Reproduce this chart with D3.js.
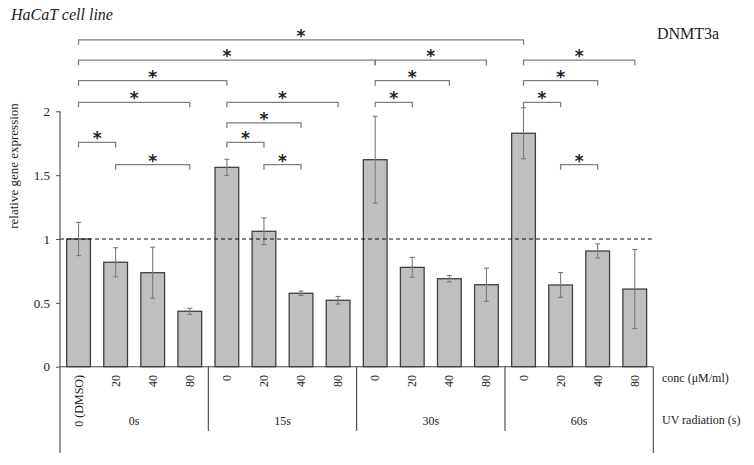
<!DOCTYPE html>
<html>
<head>
<meta charset="utf-8">
<script src="https://cdn.jsdelivr.net/npm/d3@7"></script>
<style>
  body { margin: 0; background: #fff; }
  svg text { font-family: "Liberation Serif", "Times New Roman", serif; fill: #222; }
</style>
</head>
<body>
<div id="chart"></div>
<script>
// data
const groups = ["0s", "15s", "30s", "60s"];
const concs = ["0 (DMSO)", "20", "40", "80", "0", "20", "40", "80", "0", "20", "40", "80", "0", "20", "40", "80"];
const values = [1.00, 0.818, 0.736, 0.434, 1.561, 1.060, 0.575, 0.520, 1.621, 0.778, 0.689, 0.642, 1.828, 0.640, 0.906, 0.608];
const errors = [0.13, 0.114, 0.20, 0.024, 0.063, 0.105, 0.017, 0.030, 0.34, 0.078, 0.025, 0.13, 0.20, 0.097, 0.056, 0.31];
const yTicks = [0, 0.5, 1, 1.5, 2];
// significance brackets: [from bar, to bar, level in y units above the axis]
const brackets = [
  [0, 12, 2.56],
  [0, 8, 2.40], [8, 11, 2.40], [12, 15, 2.40],
  [0, 4, 2.24], [8, 10, 2.24], [12, 14, 2.24],
  [0, 3, 2.07], [4, 7, 2.07], [8, 9, 2.07], [12, 13, 2.07],
  [4, 6, 1.91],
  [0, 1, 1.756], [4, 5, 1.756],
  [1, 3, 1.582], [5, 6, 1.582], [13, 14, 1.582]
];

const width = 754, height = 465;
const svg = d3.select("#chart").append("svg")
    .attr("width", width)
    .attr("height", height);

const plotLeft = 60, plotRight = 653.3, plotBottom = 366.7, plotTop = 111.3;

const x = d3.scaleBand()
    .domain(d3.range(values.length))
    .range([plotLeft, plotRight])
    .paddingInner(0.36)
    .paddingOuter(0.18);

const y = d3.scaleLinear()
    .domain([0, 2])
    .range([plotBottom, plotTop]);

const cx = i => x(i) + x.bandwidth() / 2;
const step = x.step();

// titles
svg.append("text")
    .attr("x", 11).attr("y", 20)
    .style("font-style", "italic")
    .style("font-size", "16px")
    .text("HaCaT cell line");

svg.append("text")
    .attr("x", 657).attr("y", 39)
    .style("font-size", "16px")
    .text("DNMT3a");

// y axis
const yAxis = svg.append("g")
    .attr("transform", `translate(${plotLeft},0)`)
    .call(d3.axisLeft(y).tickValues(yTicks).tickSize(4).tickPadding(6).tickFormat(d3.format("")));
yAxis.select(".domain").remove();
yAxis.selectAll("line").attr("stroke", "#555");
yAxis.selectAll("text")
    .style("font-size", "13px")
    .attr("fill", "#333");

svg.append("text")
    .attr("transform", "translate(18,166) rotate(-90)")
    .attr("text-anchor", "middle")
    .style("font-size", "13px")
    .text("relative gene expression");

// bars
svg.selectAll(".bar")
    .data(values)
    .enter().append("rect")
    .attr("class", "bar")
    .attr("x", (d, i) => x(i))
    .attr("y", d => y(d))
    .attr("width", x.bandwidth())
    .attr("height", d => y(0) - y(d))
    .attr("fill", "#bfbfbf")
    .attr("stroke", "#404040")
    .attr("stroke-width", 1.3);

// error bars
const eb = svg.selectAll(".err")
    .data(values)
    .enter().append("g")
    .attr("class", "err")
    .attr("stroke", "#7a7a7a")
    .attr("stroke-width", 1.1);
eb.append("line")
    .attr("x1", (d, i) => cx(i)).attr("x2", (d, i) => cx(i))
    .attr("y1", (d, i) => y(d + errors[i]))
    .attr("y2", (d, i) => y(d - errors[i]));
eb.append("line")
    .attr("x1", (d, i) => cx(i) - 2.5).attr("x2", (d, i) => cx(i) + 2.5)
    .attr("y1", (d, i) => y(d + errors[i])).attr("y2", (d, i) => y(d + errors[i]));
eb.append("line")
    .attr("x1", (d, i) => cx(i) - 2.5).attr("x2", (d, i) => cx(i) + 2.5)
    .attr("y1", (d, i) => y(d - errors[i])).attr("y2", (d, i) => y(d - errors[i]));

// dashed reference at 1
svg.append("line")
    .attr("x1", plotLeft).attr("x2", plotRight - 1.5)
    .attr("y1", y(1)).attr("y2", y(1))
    .attr("stroke", "#111")
    .attr("stroke-width", 1.2)
    .attr("stroke-dasharray", "4,3");

// axis frame / category table lines
const lines = svg.append("g").attr("stroke", "#444").attr("stroke-width", 1.1);
lines.append("line").attr("x1", plotLeft).attr("x2", plotLeft).attr("y1", plotTop).attr("y2", 453);
lines.append("line").attr("x1", plotLeft).attr("x2", plotRight).attr("y1", plotBottom).attr("y2", plotBottom);
lines.append("line").attr("x1", plotRight).attr("x2", plotRight).attr("y1", plotBottom).attr("y2", 453);
[4, 8, 12].forEach(k => {
    const sx = plotLeft + k * step;
    lines.append("line").attr("x1", sx).attr("x2", sx).attr("y1", plotBottom).attr("y2", 431);
});

// concentration labels
svg.selectAll(".conc")
    .data(concs)
    .enter().append("text")
    .attr("class", "conc")
    .attr("transform", (d, i) => `translate(${cx(i) + 4},375) rotate(-90)`)
    .attr("text-anchor", "end")
    .style("font-size", "12px")
    .text(d => d);

// group labels
svg.selectAll(".grp")
    .data(groups)
    .enter().append("text")
    .attr("class", "grp")
    .attr("x", (d, i) => plotLeft + (i * 4 + 2) * step)
    .attr("y", 425)
    .attr("text-anchor", "middle")
    .style("font-size", "12px")
    .text(d => d);

svg.append("text").attr("x", 662).attr("y", 382).style("font-size", "12px").text("conc (\u03bcM/ml)");
svg.append("text").attr("x", 662).attr("y", 424).style("font-size", "12px").text("UV radiation (s)");

// significance brackets
const br = svg.selectAll(".bracket")
    .data(brackets)
    .enter().append("g")
    .attr("class", "bracket");
br.append("path")
    .attr("d", d => {
        const x1 = cx(d[0]), x2 = cx(d[1]), yy = y(d[2]);
        return `M${x1},${yy + 5}V${yy}H${x2}V${yy + 5}`;
    })
    .attr("fill", "none")
    .attr("stroke", "#7f7f7f")
    .attr("stroke-width", 1.3);
br.append("text")
    .attr("x", d => (cx(d[0]) + cx(d[1])) / 2)
    .attr("y", d => y(d[2]) + 2)
    .attr("text-anchor", "middle")
    .style("font-family", "DejaVu Sans, sans-serif")
    .style("font-size", "17px")
    .style("font-weight", "bold")
    .attr("fill", "#111")
    .text("*");
</script>
</body>
</html>
